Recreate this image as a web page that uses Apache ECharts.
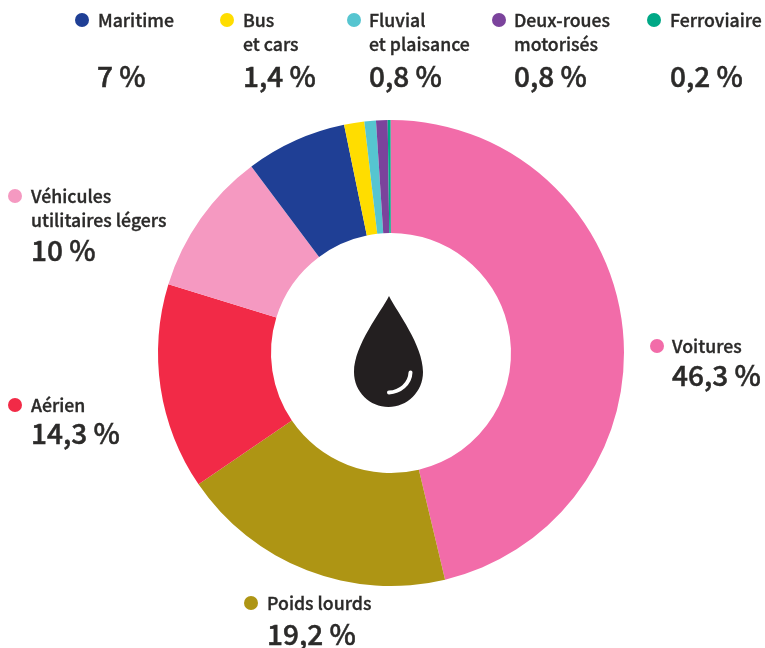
<!DOCTYPE html>
<html lang="fr">
<head>
    <meta charset="UTF-8">
    <title>Pétrole par mode de transport</title>
    <style>
        html, body { margin: 0; padding: 0; background: #fff; }
    </style>
</head>
<body>
    <div id="main" style="width: 765px;height:648px;"></div>
    <script src="https://cdn.jsdelivr.net/npm/echarts@6/dist/echarts.min.js"></script>
    <script type="text/javascript">
        var categories = ['Voitures', 'Poids lourds', 'Aérien', 'Véhicules\nutilitaires légers', 'Maritime', 'Bus\net cars', 'Fluvial\net plaisance', 'Deux-roues\nmotorisés', 'Ferroviaire'];
        var values = [46.3, 19.2, 14.3, 10, 7, 1.4, 0.8, 0.8, 0.2];
        var valueLabels = ['46,3 %', '19,2 %', '14,3 %', '10 %', '7 %', '1,4 %', '0,8 %', '0,8 %', '0,2 %'];
        var colors = ['#f26ca9', '#ae9514', '#f22a47', '#f599c1', '#1f3f95', '#ffdd00', '#56c5d0', '#7b439c', '#00a886'];

        // placement des legendes : dot x/y, texte x, valeur x/y
        var labelPos = [
            [657, 346, 672, 672, 375],
            [251, 603, 267, 267, 634],
            [15, 405, 31, 31, 433],
            [15, 196, 31, 31, 250],
            [82, 20, 98, 97, 76],
            [227, 20, 243, 243, 76],
            [354, 20, 369, 369, 76],
            [499, 20, 514, 514, 76],
            [654, 20, 670, 670, 76]
        ];

        var FONT = '"Noto Sans CJK SC", "Noto Sans", sans-serif';
        var TEXT = '#2b2a29';

        // la goutte n'existe pas en type graphic natif
        echarts.graphic.registerShape('drop', echarts.graphic.extendPath(
            'M389 296 C381 312 354 345 354 372 C354 392 370 407 388.5 407 C407 407 423 392 423 372 C423 345 397 312 389 296 Z', {}));
        echarts.graphic.registerShape('dropShine', echarts.graphic.extendPath(
            'M410.5 372.5 C410 384 400 392 389 392.5', {}));

        var myChart = echarts.init(document.getElementById('main'), null, { renderer: 'canvas' });

        var graphics = [];
        categories.forEach(function (name, i) {
            var p = labelPos[i];
            graphics.push({
                type: 'circle', silent: true,
                shape: { cx: p[0], cy: p[1], r: 7 },
                style: { fill: colors[i] }
            });
            // medium + petit contour pour approcher le semi-bold
            graphics.push({
                type: 'text', silent: true, x: p[2], y: p[1] + 0.5,
                style: {
                    text: name, fill: TEXT, font: '500 17.7px ' + FONT,
                    stroke: TEXT, lineWidth: 0.35,
                    lineHeight: 24, verticalAlign: 'top', textAlign: 'left',
                    y: -12
                }
            });
            graphics.push({
                type: 'text', silent: true, x: p[3], y: p[4],
                style: {
                    text: valueLabels[i], fill: TEXT, font: '500 28px ' + FONT,
                    stroke: TEXT, lineWidth: 0.5,
                    verticalAlign: 'middle', textAlign: 'left'
                }
            });
        });

        // goutte au centre
        graphics.push({ type: 'drop', silent: true, z: 10, style: { fill: '#231f20' } });
        graphics.push({
            type: 'dropShine', silent: true, z: 11,
            style: { fill: null, stroke: '#fff', lineWidth: 4, lineCap: 'round' }
        });

        var option = {
            animation: false,
            color: colors,
            graphic: graphics,
            series: [{
                type: 'pie',
                center: [391, 353],
                radius: [120, 233],
                startAngle: 90.1,
                clockwise: true,
                label: { show: false },
                labelLine: { show: false },
                silent: true,
                data: categories.map(function (name, i) {
                    return { name: name, value: values[i] };
                })
            }]
        };

        myChart.setOption(option);
    </script>
</body>
</html>
